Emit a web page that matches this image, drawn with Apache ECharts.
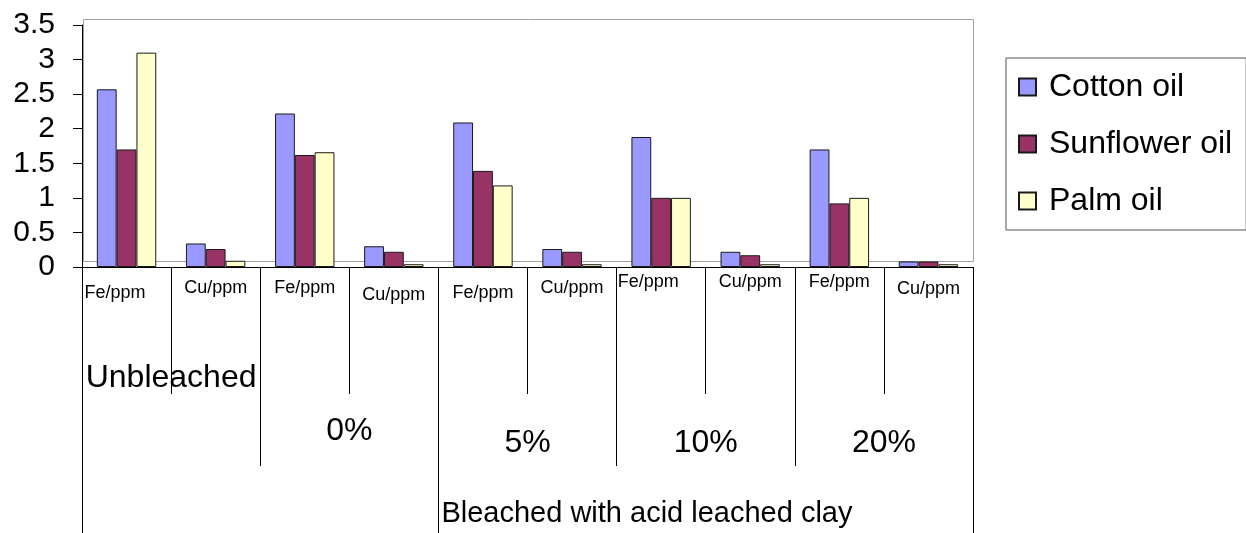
<!DOCTYPE html>
<html>
<head>
<meta charset="utf-8">
<script src="https://cdn.jsdelivr.net/npm/echarts@6/dist/echarts.min.js"></script>
<style>
html, body { margin: 0; padding: 0; background: #fff; }
#chart { width: 1246px; height: 533px; }
</style>
</head>
<body>
<div id="chart"></div>
<script>
var categories = ['Fe/ppm', 'Cu/ppm', 'Fe/ppm', 'Cu/ppm', 'Fe/ppm', 'Cu/ppm', 'Fe/ppm', 'Cu/ppm', 'Fe/ppm', 'Cu/ppm'];
var groups = ['Unbleached', '0%', '5%', '10%', '20%'];
var outerGroup = 'Bleached with acid leached clay';
var outerGroupStart = 4; // category boundary where the outer group begins

var seriesNames = ['Cotton oil', 'Sunflower oil', 'Palm oil'];
var cottonOil = [2.57, 0.34, 2.22, 0.30, 2.09, 0.26, 1.88, 0.22, 1.70, 0.08];
var sunflowerOil = [1.70, 0.26, 1.62, 0.22, 1.39, 0.22, 1.00, 0.17, 0.92, 0.08];
var palmOil = [3.10, 0.09, 1.66, 0.04, 1.18, 0.04, 1.00, 0.04, 1.00, 0.04];

var yMin = 0;
var yMax = 3.5;
var yStep = 0.5;

(function () {
    'use strict';
    var FONT = '"Liberation Sans", Arial, sans-serif';
    var colors = ['#9999ff', '#993366', '#ffffcc'];
    var chart = echarts.init(document.getElementById('chart'));

    // excel puts the small labels at slightly different heights, nudge them
    // [lineHeight, right padding]
    var innerNudge = [[52, 23], [43, 0], [42, 0], [56, 0], [52, 0], [42, 0], [31, 26], [31, 0], [31, 0], [45, 0]];
    var innerRich = {};
    innerNudge.forEach(function (n, i) {
        innerRich['r' + i] = { fontSize: 18, fontFamily: FONT, color: '#000', lineHeight: n[0], padding: [0, n[1], 0, 0] };
    });
    var groupLines = [222, 328, 352, 352, 352];
    var groupRich = {};
    groupLines.forEach(function (h, i) {
        groupRich['g' + i] = { fontSize: 32, fontFamily: FONT, color: '#000', lineHeight: h };
    });

    var outerData = [];
    for (var i = 0; i <= categories.length; i++) {
        outerData.push(i === outerGroupStart ? outerGroup : '');
    }
    var outerTicks = [0, outerGroupStart, categories.length];

    var data = [cottonOil, sunflowerOil, palmOil];
    var series = seriesNames.map(function (name, i) {
        return {
            name: name,
            type: 'bar',
            data: data[i],
            barGap: 0,
            barCategoryGap: '33.3%',
            itemStyle: { color: colors[i], borderColor: '#1a1a1a', borderWidth: 1 },
            emphasis: { disabled: true }
        };
    });

    var gridLeft = 82, gridRight = 273, gridTop = 25, gridBottom = 266;

    var option = {
        animation: false,
        grid: { left: gridLeft, right: gridRight, top: gridTop, bottom: gridBottom, outerBoundsMode: 'none' },
        legend: {
            orient: 'vertical',
            left: 1006,
            top: 58,
            padding: [13, 14, 13, 12],
            itemGap: 25,
            itemWidth: 17,
            itemHeight: 17,
            icon: 'rect',
            backgroundColor: '#fff',
            borderColor: '#555',
            borderWidth: 1,
            borderRadius: 0,
            textStyle: { fontSize: 32, fontFamily: FONT, color: '#000', padding: [0, 0, 0, 8] },
            data: seriesNames
        },
        graphic: [{
            type: 'rect',
            silent: true,
            z: 0,
            shape: { x: gridLeft + 1.5, y: gridTop - 5.5, width: 890, height: 242 },
            style: { fill: 'none', stroke: '#a0a0a0', lineWidth: 1 }
        }],
        xAxis: [{
            type: 'category',
            position: 'bottom',
            data: categories,
            axisLine: { show: true, lineStyle: { color: '#000', width: 1 } },
            axisTick: { show: true, interval: 0, length: 127, lineStyle: { color: '#000' } },
            axisLabel: {
                interval: 0,
                margin: 0,
                formatter: function (value, index) { return '{r' + index + '|' + value + '}'; },
                rich: innerRich
            },
            splitLine: { show: false }
        }, {
            type: 'category',
            position: 'bottom',
            data: groups,
            axisLine: { show: false },
            axisTick: { show: true, interval: 0, length: 199, lineStyle: { color: '#000' } },
            axisLabel: {
                interval: 0,
                margin: 0,
                formatter: function (value, index) { return '{g' + index + '|' + value + '}'; },
                rich: groupRich
            },
            splitLine: { show: false }
        }, {
            type: 'category',
            position: 'bottom',
            boundaryGap: false,
            data: outerData,
            axisLine: { show: false },
            axisTick: {
                show: true,
                length: 266,
                interval: function (index) { return outerTicks.indexOf(index) >= 0; },
                lineStyle: { color: '#000' }
            },
            axisLabel: {
                interval: 0,
                margin: 0,
                align: 'left',
                formatter: function (value) { return value ? '{o|' + value + '}' : ''; },
                rich: { o: { fontSize: 29, fontFamily: FONT, color: '#000', lineHeight: 494, padding: [0, 0, 0, 3] } }
            },
            splitLine: { show: false }
        }],
        yAxis: {
            type: 'value',
            min: yMin,
            max: yMax,
            interval: yStep,
            axisLine: { show: true, lineStyle: { color: '#000', width: 1 } },
            axisTick: { show: true, length: 9, lineStyle: { color: '#000' } },
            axisLabel: { fontSize: 30, fontFamily: FONT, color: '#000', margin: 27 },
            splitLine: { show: false }
        },
        series: series
    };

    chart.setOption(option);
})();
</script>
</body>
</html>
